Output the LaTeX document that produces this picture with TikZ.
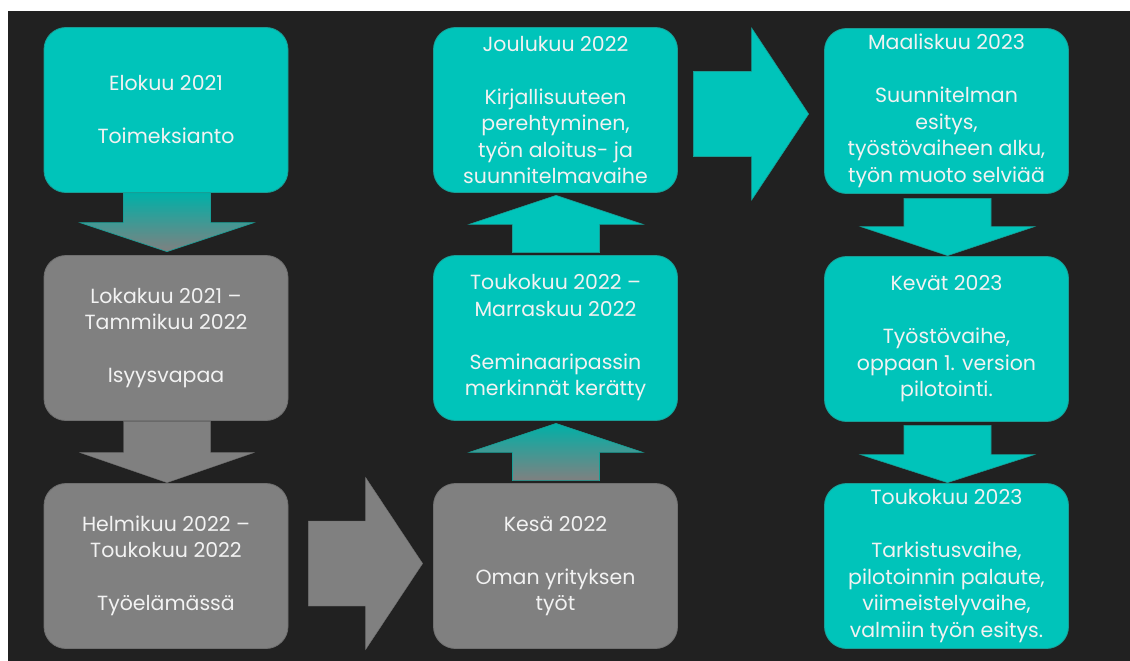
\documentclass[tikz,border=0pt]{standalone}
\usepackage{fontspec}
\setmainfont{Poppins}
\usetikzlibrary{calc}
\definecolor{bg}{HTML}{212121}
\definecolor{teal1}{RGB}{0,196,186}
\definecolor{tealedge}{RGB}{24,158,150}
\definecolor{grey1}{HTML}{808080}
\definecolor{greyedge}{HTML}{707070}
\definecolor{txt}{HTML}{F2F2F2}
\newcommand\vblock[4]{%
  \path[#1] let \p1=(#2), \p2=(#3) in
    (\x1-43.5pt,\y1) -- (\x1+43.5pt,\y1) -- (\x1+43.5pt,\y2#4) -- (\x1+87pt,\y2#4)
    -- (\x1,\y2) -- (\x1-87pt,\y2#4) -- (\x1-43.5pt,\y2#4) -- cycle;}
\newcommand\hblock[3]{%
  \path[#1] let \p1=(#2), \p2=(#3) in
    (\x1,\y1+42.5pt) -- (\x2-57pt,\y1+42.5pt) -- (\x2-57pt,\y1+86pt) -- (\x2,\y1)
    -- (\x2-57pt,\y1-86pt) -- (\x2-57pt,\y1-42.5pt) -- (\x1,\y1-42.5pt) -- cycle;}
\begin{document}
\begin{tikzpicture}[x=1pt,y=-1pt,
  box/.style={rounded corners=22pt, minimum width=244pt, minimum height=165pt,
    inner sep=0pt, align=center, text=txt, font=\fontsize{20.5}{26.5}\selectfont, line width=0.8pt},
  tealbox/.style={box, fill=teal1, draw=tealedge},
  greybox/.style={box, fill=grey1, draw=greyedge},
  tealarrow/.style={fill=teal1, draw=tealedge, line width=0.6pt},
  greyarrow/.style={fill=grey1, draw=greyedge, line width=0.4pt},
  fadearrow/.style={top color=teal1!90!black, bottom color=grey1, draw=tealedge, line width=0.6pt}]
\useasboundingbox (0,0) rectangle (1130,661);
\fill[white] (0,0) rectangle (1130,661);
\fill[bg] (8,11) rectangle (1130,661);

\node[tealbox] (b1) at (166,110) {Elokuu 2021\\[26.5pt]Toimeksianto};
\node[greybox] (b2) at (166,338) {Lokakuu 2021 –\\Tammikuu 2022\\[26.5pt]Isyysvapaa};
\node[greybox] (b3) at (166,566) {Helmikuu 2022 –\\Toukokuu 2022\\[26.5pt]Työelämässä};
\node[greybox] (b4) at (555.5,566) {Kesä 2022\\[26.5pt]Oman yrityksen\\työt};
\node[tealbox] (b5) at (555.5,338) {Toukokuu 2022 –\\Marraskuu 2022\\[26.5pt]Seminaaripassin\\merkinnät kerätty};
\node[tealbox] (b6) at (555.5,110) {Joulukuu 2022\\[26.5pt]Kirjallisuuteen\\perehtyminen,\\työn aloitus- ja\\suunnitelmavaihe};
\node[tealbox] (b7) at (946.5,111) {Maaliskuu 2023\\[26.5pt]Suunnitelman\\esitys,\\työstövaiheen alku,\\työn muoto selviää};
\node[tealbox] (b8) at (946.5,339) {Kevät 2023\\[26.5pt]Työstövaihe,\\oppaan 1. version\\pilotointi.};
\node[tealbox] (b9) at (946.5,566) {Toukokuu 2023\\[26.5pt]Tarkistusvaihe,\\pilotoinnin palaute,\\viimeistelyvaihe,\\valmiin työn esitys.};

\coordinate (a1s) at ($(b1.south)+(1,0)$);
\coordinate (a1t) at ($(b2.north)+(1,-3.5)$);
\coordinate (a2s) at ($(b2.south)+(1,0.5)$);
\coordinate (a2t) at ($(b3.north)+(1,-0.5)$);
\coordinate (a3s) at ($(b3.east)+(20,-2.5)$);
\coordinate (a3t) at ($(b4.west)+(-10.5,-2.5)$);
\coordinate (a4s) at ($(b4.north)+(0.5,-2.5)$);
\coordinate (a4t) at ($(b5.south)+(0.5,2.5)$);
\coordinate (a5s) at ($(b5.north)+(0.5,-2.5)$);
\coordinate (a5t) at ($(b6.south)+(0.5,2.5)$);
\coordinate (a6s) at ($(b6.east)+(15.5,4)$);
\coordinate (a6t) at ($(b7.west)+(-15.5,3)$);
\coordinate (a7s) at ($(b7.south)+(1,4.5)$);
\coordinate (a7t) at ($(b8.north)+(1,-0.5)$);
\coordinate (a8s) at ($(b8.south)+(1,3.5)$);
\coordinate (a8t) at ($(b9.north)+(1,-0.5)$);

\vblock{fadearrow}{a1s}{a1t}{+29pt}
\vblock{greyarrow}{a2s}{a2t}{+30pt}
\hblock{greyarrow}{a3s}{a3t}
\vblock{fadearrow}{a4s}{a4t}{-29pt}
\vblock{tealarrow}{a5s}{a5t}{-29pt}
\hblock{tealarrow}{a6s}{a6t}
\vblock{tealarrow}{a7s}{a7t}{+29pt}
\vblock{tealarrow}{a8s}{a8t}{+28pt}
\end{tikzpicture}
\end{document}
